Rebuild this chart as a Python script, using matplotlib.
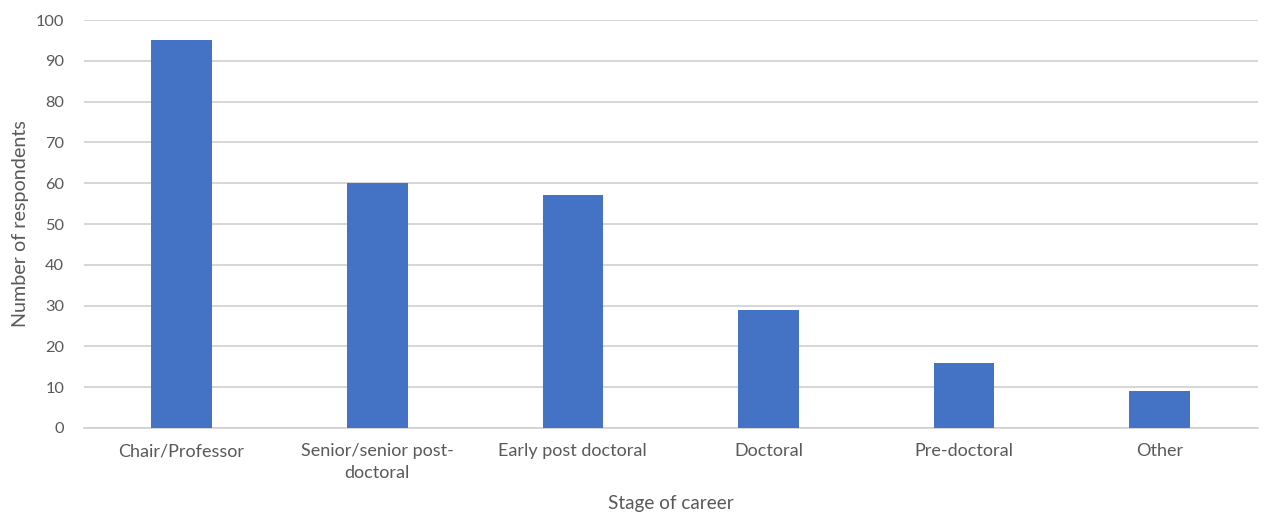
import numpy as np
import matplotlib
matplotlib.use('Agg')
import matplotlib.pyplot as plt

plt.rcParams['font.family'] = ['Lato', 'DejaVu Sans']

stages = ['Chair/Professor', 'Senior/senior post-\ndoctoral', 'Early post doctoral',
          'Doctoral', 'Pre-doctoral', 'Other']
respondents = [95, 60, 57, 29, 16, 9]
y_ticks = list(range(0, 101, 10))

text_color = '#595959'
grid_color = '#d0d0d0'

fig = plt.figure(figsize=(12.69, 5.15), dpi=100)
ax = fig.add_axes([0.066, 0.169, 0.925, 0.792])

x = np.arange(len(stages))
ax.bar(x, respondents, width=0.31, color='#4472c4', zorder=3)

ax.set_xlim(-0.5, len(stages) - 0.5)
ax.set_ylim(0, 100)
ax.set_yticks(y_ticks)
ax.set_xticks(x)
ax.set_xticklabels(stages, fontsize=13, color=text_color, linespacing=1.45)
ax.tick_params(axis='y', labelsize=11.8, labelcolor=text_color, length=0, pad=14)
ax.tick_params(axis='x', length=0, pad=11)

ax.grid(axis='y', color=grid_color, linewidth=1.2, zorder=0)
for s in ['top', 'right', 'left']:
    ax.spines[s].set_visible(False)
ax.spines['bottom'].set_color(grid_color)
ax.spines['bottom'].set_linewidth(1.2)

ax.set_ylabel('Number of respondents', fontsize=14.2, color=text_color, labelpad=5)
ax.set_xlabel('Stage of career', fontsize=13.6, color=text_color, labelpad=10)

fig.savefig('out.png', dpi=100)
